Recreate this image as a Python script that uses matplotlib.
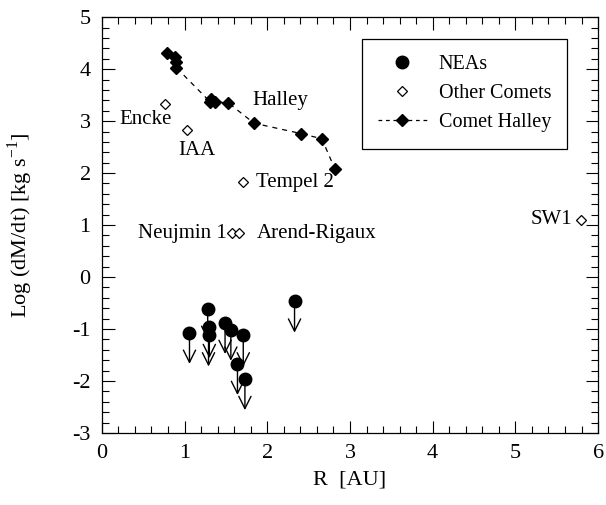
import matplotlib
matplotlib.use('Agg')
import matplotlib.pyplot as plt
from matplotlib.ticker import MultipleLocator
from matplotlib.lines import Line2D

plt.rcParams['font.family'] = ['Liberation Serif', 'DejaVu Serif']
plt.rcParams['mathtext.fontset'] = 'stix'
plt.rcParams['axes.unicode_minus'] = False

# Comet Halley mass loss vs heliocentric distance
halley_r = [0.79, 0.88, 0.895, 0.90, 1.31, 1.32, 1.37, 1.53, 1.84, 2.41, 2.66, 2.82]
halley_m = [4.31, 4.24, 4.14, 4.03, 3.37, 3.42, 3.37, 3.35, 2.96, 2.76, 2.66, 2.07]

# Other comets
comet_names = ['Encke', 'IAA', 'Tempel 2', 'Neujmin 1', 'Arend-Rigaux', 'SW1']
comet_r = [0.76, 1.03, 1.71, 1.57, 1.66, 5.79]
comet_m = [3.32, 2.83, 1.83, 0.84, 0.84, 1.10]

# NEA upper limits
nea_r = [1.06, 1.28, 1.30, 1.29, 1.49, 1.56, 1.71, 1.64, 1.73, 2.33]
nea_m = [-1.07, -0.61, -0.96, -1.12, -0.88, -1.01, -1.12, -1.67, -1.96, -0.47]

fig = plt.figure(figsize=(6.06, 5.05), dpi=100)
ax = fig.add_axes([0.168, 0.1426, 0.819, 0.8234])

# upper-limit arrows under the NEAs
for r, m in zip(nea_r, nea_m):
    ax.annotate('', xy=(r, m - 0.6), xytext=(r, m),
                arrowprops=dict(arrowstyle='->', color='black', lw=1.0,
                                mutation_scale=22, shrinkA=0, shrinkB=0))
ax.plot(nea_r, nea_m, 'o', color='black', ms=9, zorder=3)

ax.plot(comet_r, comet_m, 'D', mfc='white', mec='black', ms=5, mew=0.9, zorder=3)
ax.plot(halley_r, halley_m, '--D', color='black', ms=6, lw=0.9, dashes=(4, 4), zorder=3)

fs = 15
ax.text(0.53, 3.04, 'Encke', fontsize=fs, ha='center', va='center')
ax.text(1.15, 2.43, 'IAA', fontsize=fs, ha='center', va='center')
ax.text(2.16, 3.40, 'Halley', fontsize=fs, ha='center', va='center')
ax.text(1.86, 1.81, 'Tempel 2', fontsize=fs, ha='left', va='center')
ax.text(1.51, 0.83, 'Neujmin 1', fontsize=fs, ha='right', va='center')
ax.text(1.87, 0.83, 'Arend-Rigaux', fontsize=fs, ha='left', va='center')
ax.text(5.69, 1.10, 'SW1', fontsize=fs, ha='right', va='center')

ax.set_xlim(0, 6)
ax.set_ylim(-3, 5)
ax.xaxis.set_major_locator(MultipleLocator(1))
ax.xaxis.set_minor_locator(MultipleLocator(0.2))
ax.yaxis.set_major_locator(MultipleLocator(1))
ax.yaxis.set_minor_locator(MultipleLocator(0.2))
ax.tick_params(which='both', direction='in', top=True, right=True, labelsize=16, width=0.8)
ax.tick_params(which='major', length=9, pad=8)
ax.tick_params(which='minor', length=5)
for s in ax.spines.values():
    s.set_linewidth(0.9)

ax.set_xlabel('R  [AU]', fontsize=16, labelpad=5)
ax.set_ylabel(r'Log (dM/dt) [kg s$^{\mathregular{-1}}$]', fontsize=16)
ax.yaxis.set_label_coords(-0.135, 0.5)

handles = [
    Line2D([], [], marker='o', ls='none', color='black', ms=9),
    Line2D([], [], marker='D', ls='none', mfc='white', mec='black', ms=5, mew=0.9),
    Line2D([], [], marker='D', ls='--', color='black', ms=6, lw=0.9, dashes=(3, 3)),
]
leg = ax.legend(handles, ['NEAs', 'Other Comets', 'Comet Halley'], loc='upper right',
                bbox_to_anchor=(0.958, 0.972), fontsize=14.5, fancybox=False,
                edgecolor='black', framealpha=1, handlelength=2.4, borderpad=0.8,
                labelspacing=0.5, handletextpad=0.6)
leg.get_frame().set_linewidth(0.9)

fig.savefig('out.png', dpi=100)
